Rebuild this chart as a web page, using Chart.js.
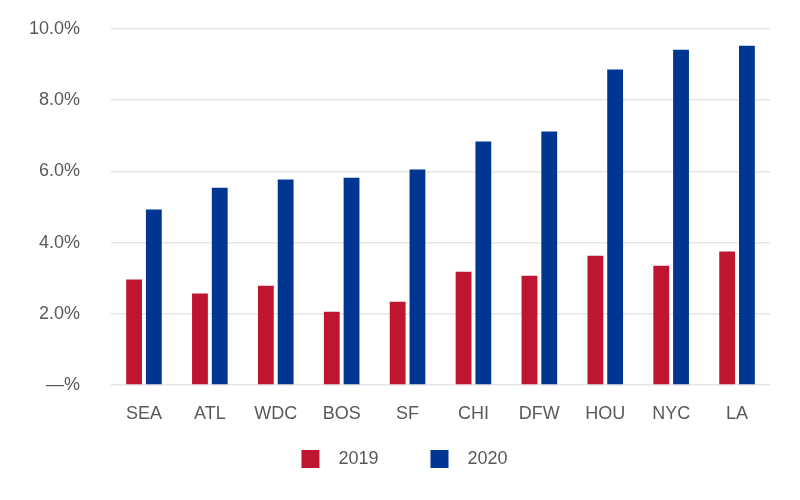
<!DOCTYPE html>
<html>
<head>
<meta charset="utf-8">
<script src="https://cdn.jsdelivr.net/npm/chart.js@4"></script>
<style>
  html, body { margin: 0; padding: 0; background: #fff; }
  #wrap { width: 800px; height: 500px; }
</style>
</head>
<body>
<div id="wrap"><canvas id="chart"></canvas></div>
<script>
const cities = ["SEA", "ATL", "WDC", "BOS", "SF", "CHI", "DFW", "HOU", "NYC", "LA"];
const rate2019 = [2.96, 2.57, 2.79, 2.06, 2.34, 3.18, 3.07, 3.63, 3.35, 3.75];
const rate2020 = [4.93, 5.54, 5.77, 5.82, 6.05, 6.84, 7.12, 8.86, 9.42, 9.53];
const yTicks = ["—%", "2.0%", "4.0%", "6.0%", "8.0%", "10.0%"];

const textColor = "#595959";
const font = { family: "'Liberation Sans', Arial, sans-serif", size: 18 };

// nudge the bottom legend a little right, like the original
const legendShift = {
  id: "legendShift",
  afterLayout(chart) {
    chart.legend.left += 4.5;
    chart.legend.right += 4.5;
  },
};

new Chart(document.getElementById("chart"), {
  type: "bar",
  data: {
    labels: cities,
    datasets: [
      {
        label: "2019",
        data: rate2019,
        backgroundColor: "#be1631",
        categoryPercentage: 0.6,
        barPercentage: 0.8,
      },
      {
        label: "2020",
        data: rate2020,
        backgroundColor: "#003591",
        categoryPercentage: 0.6,
        barPercentage: 0.8,
      },
    ],
  },
  plugins: [legendShift],
  options: {
    responsive: true,
    maintainAspectRatio: false,
    animation: false,
    layout: { padding: { left: 30, right: 30, top: 29, bottom: 22 } },
    scales: {
      x: {
        grid: { display: false, drawTicks: false },
        border: { display: false },
        afterFit: (scale) => { scale.height = 41; },
        ticks: { color: textColor, font, padding: 18 },
      },
      y: {
        min: 0,
        max: 10,
        grid: { color: "#e6e6e6", lineWidth: 1.5, drawTicks: false },
        border: { display: false },
        afterFit: (scale) => {
          scale.width = 81;
          scale.paddingTop = 0;
          scale.paddingBottom = 0;
        },
        ticks: {
          stepSize: 2,
          color: textColor,
          font,
          padding: 31,
          callback: (v) => yTicks[Math.round(v / 2)],
        },
      },
    },
    plugins: {
      tooltip: { enabled: false },
      legend: {
        position: "bottom",
        labels: {
          color: textColor,
          font,
          boxWidth: 18,
          boxHeight: 18,
          padding: 24,
          generateLabels: (chart) =>
            Chart.defaults.plugins.legend.labels.generateLabels(chart).map((l, i) => ({
              ...l,
              text: "  " + l.text + (i === 0 ? "\u2003  " : ""),
              lineWidth: 0,
            })),
        },
      },
    },
  },
});
</script>
</body>
</html>
